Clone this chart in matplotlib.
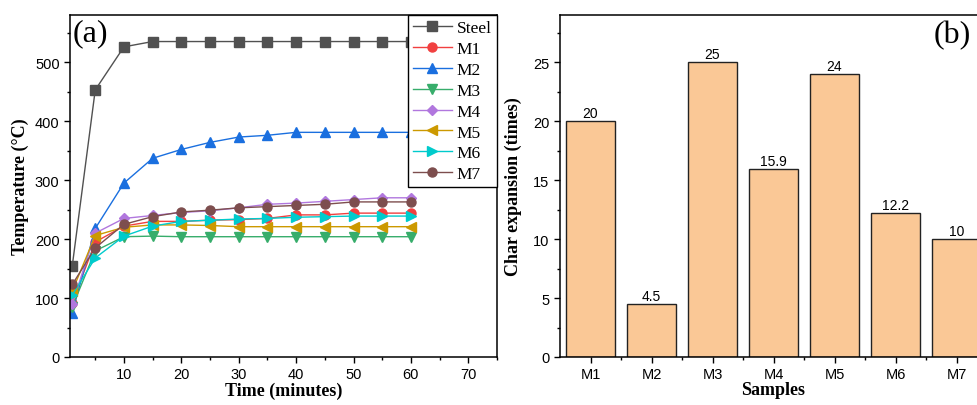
import matplotlib
matplotlib.use('Agg')
import matplotlib.pyplot as plt
from matplotlib.ticker import MultipleLocator, FixedLocator

# panel (a) temperature vs time
time_min = [1, 5, 10, 15, 20, 25, 30, 35, 40, 45, 50, 55, 60]
steel = [155, 453, 526, 535, 535, 535, 535, 535, 535, 535, 535, 535, 535]
m1 = [92, 195, 222, 230, 230, 232, 233, 235, 241, 241, 244, 244, 244]
m2 = [75, 218, 295, 337, 352, 364, 373, 376, 381, 381, 381, 381, 381]
m3 = [85, 180, 204, 205, 204, 204, 204, 204, 204, 204, 204, 204, 204]
m4 = [90, 210, 235, 240, 245, 248, 253, 259, 261, 264, 267, 270, 270]
m5 = [112, 206, 220, 224, 224, 223, 221, 221, 221, 221, 221, 221, 221]
m6 = [105, 168, 205, 222, 230, 232, 234, 235, 237, 238, 239, 239, 239]
m7 = [123, 185, 225, 238, 246, 249, 253, 255, 257, 259, 263, 263, 263]

series_names = ['Steel', 'M1', 'M2', 'M3', 'M4', 'M5', 'M6', 'M7']
series_vals = [steel, m1, m2, m3, m4, m5, m6, m7]
colors = ['#515151', '#F14040', '#1A6FDF', '#37AD6B', '#B177DE', '#CC9900', '#00CBCC', '#7D4E4E']
markers = ['s', 'o', '^', 'v', 'D', '<', '>', 'o']

# panel (b) char expansion
samples = ['M1', 'M2', 'M3', 'M4', 'M5', 'M6', 'M7']
expansion = [20, 4.5, 25, 15.9, 24, 12.2, 10]
exp_labels = ['20', '4.5', '25', '15.9', '24', '12.2', '10']

serif = 'Liberation Serif'
sans = 'Liberation Sans'
plt.rcParams['font.family'] = sans
plt.rcParams['axes.linewidth'] = 1.1

fig = plt.figure(figsize=(9.77, 4.06), dpi=100)
ax1 = fig.add_axes([70/977, 48/406, 427/977, 342/406])
ax2 = fig.add_axes([560/977, 48/406, 427/977, 342/406])

for name, vals, c, m in zip(series_names, series_vals, colors, markers):
    ms = 5.5 if m == 'D' else 6.5
    ax1.plot(time_min, vals, color=c, marker=m, markersize=ms, linewidth=1.0, label=name)

ax1.set_xlim(0.6, 75)
ax1.set_ylim(0, 580)
ax1.xaxis.set_major_locator(FixedLocator([10, 20, 30, 40, 50, 60, 70]))
ax1.xaxis.set_minor_locator(FixedLocator([5, 15, 25, 35, 45, 55, 65, 75]))
ax1.yaxis.set_major_locator(MultipleLocator(100))
ax1.yaxis.set_minor_locator(MultipleLocator(50))
ax1.set_xlabel('Time (minutes)', fontfamily=serif, fontweight='bold', fontsize=13, labelpad=0)
ax1.set_ylabel('Temperature (\u00b0C)', fontfamily=serif, fontweight='bold', fontsize=13, labelpad=4)
ax1.text(0.005, 0.99, '(a)', transform=ax1.transAxes, fontfamily=serif, fontsize=23,
         va='top', ha='left')
leg = ax1.legend(loc='upper right', borderaxespad=0, fancybox=False, framealpha=1,
                 edgecolor='black', prop={'family': serif, 'size': 12.5},
                 handlelength=2.2, labelspacing=0.27, borderpad=0.3, handletextpad=0.3)
leg.get_frame().set_linewidth(1.0)

x_pos = list(range(1, len(samples) + 1))
bars = ax2.bar(x_pos, expansion, width=0.79, color='#FAC896', edgecolor='#222222', linewidth=1.0)
for xp, v, lab in zip(x_pos, expansion, exp_labels):
    ax2.text(xp, v + 0.1, lab, ha='center', va='bottom', fontsize=10)
ax2.set_xlim(0.5, 7.5)
ax2.set_ylim(0, 29)
ax2.set_xticks(x_pos)
ax2.set_xticklabels(samples)
ax2.xaxis.set_minor_locator(FixedLocator([1.5, 2.5, 3.5, 4.5, 5.5, 6.5]))
ax2.yaxis.set_major_locator(MultipleLocator(5))
ax2.yaxis.set_minor_locator(MultipleLocator(2.5))
ax2.set_xlabel('Samples', fontfamily=serif, fontweight='bold', fontsize=13, labelpad=0)
ax2.set_ylabel('Char expansion (times)', fontfamily=serif, fontweight='bold', fontsize=13, labelpad=8)
ax2.text(0.875, 0.985, '(b)', transform=ax2.transAxes, fontfamily=serif, fontsize=23,
         va='top', ha='left')

for ax in (ax1, ax2):
    ax.tick_params(which='major', direction='out', length=4, width=1, labelsize=10.5)
    ax.tick_params(which='minor', direction='out', length=2.5, width=1)

fig.savefig('out.png', dpi=100)
